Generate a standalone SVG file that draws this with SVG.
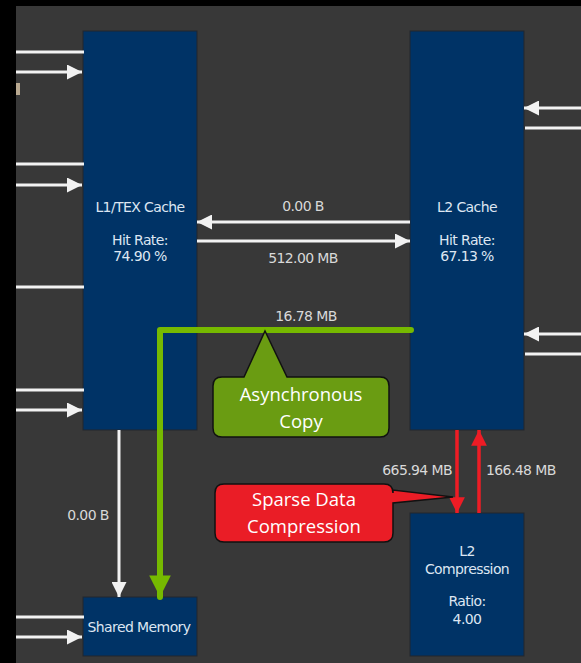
<svg xmlns="http://www.w3.org/2000/svg" width="581" height="663" viewBox="0 0 581 663">
<defs>
<style>
.blk{fill:#003366;stroke:#23272c;stroke-width:1}
.wl{stroke:#f2f2f2;stroke-width:3;fill:none}
.bt{font-family:"DejaVu Sans","Liberation Sans",sans-serif;font-size:14px;letter-spacing:-0.6px;fill:#dde6f2;text-anchor:middle}
.lb{font-family:"DejaVu Sans","Liberation Sans",sans-serif;font-size:14px;letter-spacing:-0.6px;fill:#d9d9d9;text-anchor:middle}
.ct{font-family:"Open Sans","Liberation Sans",sans-serif;font-size:18.5px;fill:#ffffff;text-anchor:middle}
</style>
<marker id="wa" viewBox="0 0 10 10" refX="10" refY="5" markerWidth="5" markerHeight="5" markerUnits="strokeWidth" orient="auto">
<path d="M0,0 L10,5 L0,10 z" fill="#f2f2f2"/>
</marker>
<marker id="ra" viewBox="0 0 10 10" refX="10" refY="5" markerWidth="4.5" markerHeight="4.5" markerUnits="strokeWidth" orient="auto">
<path d="M0,0 L10,5 L0,10 z" fill="#ee1c25"/>
</marker>
<marker id="ga" viewBox="0 0 10 10" refX="10" refY="5" markerWidth="3.6" markerHeight="3.6" markerUnits="strokeWidth" orient="auto">
<path d="M0,0 L10,5 L0,10 z" fill="#76b900"/>
</marker>
</defs>
<rect x="0" y="0" width="581" height="663" fill="#000000"/>
<rect x="16" y="6" width="565" height="657" fill="#383838"/>
<rect x="16" y="83" width="4" height="12" fill="#b8a890"/>

<g id="l1tex">
<rect class="blk" x="83" y="31" width="114" height="399"/>
<text class="bt" x="140" y="212">L1/TEX Cache</text>
<text class="bt" x="140" y="245">Hit Rate:</text>
<text class="bt" x="140" y="261">74.90 %</text>
</g>
<g id="l2cache">
<rect class="blk" x="410" y="31" width="114" height="399"/>
<text class="bt" x="467" y="212">L2 Cache</text>
<text class="bt" x="467" y="245">Hit Rate:</text>
<text class="bt" x="467" y="261">67.13 %</text>
</g>
<g id="sharedmem">
<rect class="blk" x="83" y="597" width="114" height="59"/>
<text class="bt" x="139" y="632">Shared Memory</text>
</g>
<g id="l2comp">
<rect class="blk" x="410" y="513" width="114" height="143"/>
<text class="bt" x="467" y="556">L2</text>
<text class="bt" x="467" y="574">Compression</text>
<text class="bt" x="467" y="606">Ratio:</text>
<text class="bt" x="467" y="624">4.00</text>
</g>

<g id="connectors">
<line class="wl" x1="16" y1="52" x2="84" y2="52"/>
<line class="wl" x1="16" y1="72" x2="82" y2="72" marker-end="url(#wa)"/>
<line class="wl" x1="16" y1="164" x2="84" y2="164"/>
<line class="wl" x1="16" y1="185" x2="82" y2="185" marker-end="url(#wa)"/>
<line class="wl" x1="16" y1="287" x2="84" y2="287"/>
<line class="wl" x1="16" y1="390" x2="84" y2="390"/>
<line class="wl" x1="16" y1="410" x2="82" y2="410" marker-end="url(#wa)"/>
<line class="wl" x1="16" y1="617" x2="84" y2="617"/>
<line class="wl" x1="16" y1="637" x2="82" y2="637" marker-end="url(#wa)"/>
<line class="wl" x1="581" y1="108" x2="524" y2="108" marker-end="url(#wa)"/>
<line class="wl" x1="581" y1="128" x2="525" y2="128"/>
<line class="wl" x1="581" y1="334" x2="524" y2="334" marker-end="url(#wa)"/>
<line class="wl" x1="581" y1="354" x2="525" y2="354"/>
<line class="wl" x1="410" y1="222" x2="197" y2="222" marker-end="url(#wa)"/>
<line class="wl" x1="197" y1="241" x2="410" y2="241" marker-end="url(#wa)"/>
<line class="wl" x1="119" y1="430" x2="119" y2="597" marker-end="url(#wa)"/>
<text class="lb" x="303" y="211">0.00 B</text>
<text class="lb" x="303" y="263">512.00 MB</text>
<text class="lb" x="88" y="520">0.00 B</text>
<text class="lb" x="306" y="321">16.78 MB</text>
<text class="lb" x="452" y="475" style="text-anchor:end">665.94 MB</text>
<text class="lb" x="486" y="475" style="text-anchor:start">166.48 MB</text>
<path d="M411,330 L160,330 L160,597" fill="none" stroke="#76b900" stroke-width="6" stroke-linecap="round" stroke-linejoin="round" marker-end="url(#ga)"/>
<line x1="457" y1="430" x2="457" y2="513" stroke="#ee1c25" stroke-width="3.5" marker-end="url(#ra)"/>
<line x1="479" y1="513" x2="479" y2="430" stroke="#ee1c25" stroke-width="3.5" marker-end="url(#ra)"/>
</g>

<g id="async-callout">
<path d="M222,377 L244,377 L265,331 L287,377 L380,377 Q389,377 389,386 L389,428 Q389,437 380,437 L222,437 Q213,437 213,428 L213,386 Q213,377 222,377 Z" fill="#6a9c12" stroke="#111111" stroke-width="1.5"/>
<text class="ct" x="301" y="401">Asynchronous</text>
<text class="ct" x="301" y="428">Copy</text>
</g>
<g id="sparse-callout">
<path d="M224,484 L384,484 Q393,484 393,493 L393,490 L453,497 L393,503 L393,533 Q393,542 384,542 L224,542 Q215,542 215,533 L215,493 Q215,484 224,484 Z" fill="#ea1d26" stroke="#111111" stroke-width="1.5"/>
<text class="ct" x="304" y="506">Sparse Data</text>
<text class="ct" x="304" y="533">Compression</text>
</g>
</svg>
